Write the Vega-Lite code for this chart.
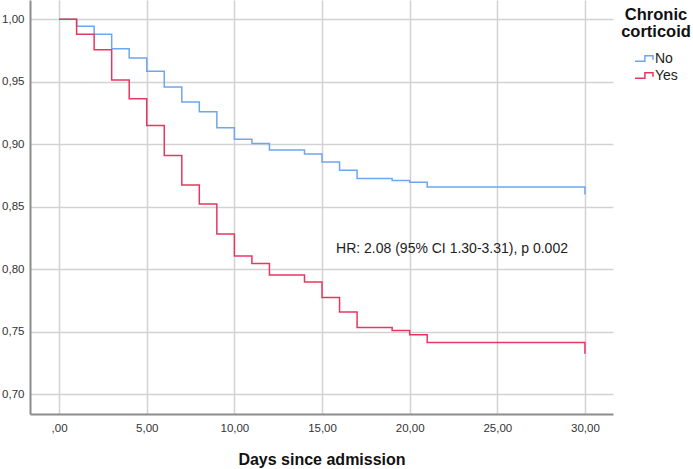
{
  "$schema": "https://vega.github.io/schema/vega-lite/v6.json",
  "autosize": {"type": "none"},
  "width": 583,
  "height": 414,
  "padding": {"left": 30, "top": 0, "right": 80, "bottom": 55},
  "background": "white",
  "config": {
    "view": {"stroke": null},
    "font": "Liberation Sans"
  },
  "datasets": {
    "km": [
      {"group": "No", "day": 0, "surv": 1.0},
      {"group": "No", "day": 1, "surv": 0.9944},
      {"group": "No", "day": 2, "surv": 0.988},
      {"group": "No", "day": 3, "surv": 0.9765},
      {"group": "No", "day": 4, "surv": 0.969},
      {"group": "No", "day": 5, "surv": 0.9584},
      {"group": "No", "day": 6, "surv": 0.9458},
      {"group": "No", "day": 7, "surv": 0.9338},
      {"group": "No", "day": 8, "surv": 0.926},
      {"group": "No", "day": 9, "surv": 0.9133},
      {"group": "No", "day": 10, "surv": 0.904},
      {"group": "No", "day": 11, "surv": 0.9005},
      {"group": "No", "day": 12, "surv": 0.8954},
      {"group": "No", "day": 14, "surv": 0.8922},
      {"group": "No", "day": 15, "surv": 0.8858},
      {"group": "No", "day": 16, "surv": 0.8792},
      {"group": "No", "day": 17, "surv": 0.8725},
      {"group": "No", "day": 19, "surv": 0.8709},
      {"group": "No", "day": 20, "surv": 0.8696},
      {"group": "No", "day": 21, "surv": 0.8658},
      {"group": "No", "day": 30, "surv": 0.8598},
      {"group": "Yes", "day": 0, "surv": 1.0},
      {"group": "Yes", "day": 1, "surv": 0.988},
      {"group": "Yes", "day": 2, "surv": 0.9757},
      {"group": "Yes", "day": 3, "surv": 0.9514},
      {"group": "Yes", "day": 4, "surv": 0.9365},
      {"group": "Yes", "day": 5, "surv": 0.915},
      {"group": "Yes", "day": 6, "surv": 0.891},
      {"group": "Yes", "day": 7, "surv": 0.8674},
      {"group": "Yes", "day": 8, "surv": 0.8522},
      {"group": "Yes", "day": 9, "surv": 0.8282},
      {"group": "Yes", "day": 10, "surv": 0.8106},
      {"group": "Yes", "day": 11, "surv": 0.8045},
      {"group": "Yes", "day": 12, "surv": 0.7954},
      {"group": "Yes", "day": 14, "surv": 0.7896},
      {"group": "Yes", "day": 15, "surv": 0.7773},
      {"group": "Yes", "day": 16, "surv": 0.7656},
      {"group": "Yes", "day": 17, "surv": 0.7533},
      {"group": "Yes", "day": 19, "surv": 0.7509},
      {"group": "Yes", "day": 20, "surv": 0.7474},
      {"group": "Yes", "day": 21, "surv": 0.7413},
      {"group": "Yes", "day": 30, "surv": 0.7322}
    ],
    "note": [
      {"label": "HR: 2.08 (95% CI 1.30-3.31), p 0.002"}
    ]
  },
  "layer": [
    {
      "data": {"name": "km"},
      "mark": {"type": "line", "interpolate": "step-after", "strokeWidth": 1.5},
      "encoding": {
        "x": {
          "field": "day", "type": "quantitative",
          "scale": {"domain": [-1.66, 31.6], "nice": false, "zero": false},
          "axis": {
            "title": "Days since admission",
            "values": [0, 5, 10, 15, 20, 25, 30],
            "labelExpr": "datum.value == 0 ? ',00' : replace(format(datum.value, '.2f'), '.', ',')",
            "grid": true, "gridColor": "#d2d2d2", "gridWidth": 1.5,
            "domainColor": "#8c8c8c", "domainWidth": 2,
            "ticks": false, "labelPadding": 8,
            "labelFont": "Liberation Sans", "labelFontSize": 11.5, "labelColor": "#333333",
            "titleFont": "Liberation Sans", "titleFontSize": 16, "titleFontWeight": "bold", "titleColor": "#111111",
            "titlePadding": 18
          }
        },
        "y": {
          "field": "surv", "type": "quantitative",
          "scale": {"domain": [0.684, 1.0155], "nice": false, "zero": false},
          "axis": {
            "title": null,
            "values": [0.7, 0.75, 0.8, 0.85, 0.9, 0.95, 1.0],
            "labelExpr": "replace(format(datum.value, '.2f'), '.', ',')",
            "grid": true, "gridColor": "#d2d2d2", "gridWidth": 1.5,
            "domainColor": "#8c8c8c", "domainWidth": 2,
            "ticks": false, "labelPadding": 6,
            "labelFont": "Liberation Sans", "labelFontSize": 11.5, "labelColor": "#333333"
          }
        },
        "color": {
          "field": "group", "type": "nominal",
          "scale": {"domain": ["No", "Yes"], "range": ["#6ea6f0", "#e8375f"]},
          "legend": {
            "title": ["Chronic", "corticoid"],
            "orient": "none",
            "legendX": 591,
            "legendY": 7,
            "titleFont": "Liberation Sans", "titleFontSize": 16.5, "titleFontWeight": "bold", "titleColor": "#111111",
            "titleAnchor": "middle", "titleAlign": "center", "titleLineHeight": 17, "titlePadding": 8,
            "labelFont": "Liberation Sans", "labelFontSize": 14, "labelColor": "#222222",
            "symbolType": "M-1,0.3H0.1V-0.3H1V0.15",
            "symbolSize": 324, "symbolStrokeWidth": 1.5, "symbolFillColor": "transparent",
            "labelOffset": 1, "rowPadding": 0
          }
        }
      }
    },
    {
      "data": {"name": "note"},
      "mark": {"type": "text", "align": "left", "baseline": "middle", "font": "Liberation Sans", "fontSize": 14, "color": "#222222"},
      "encoding": {
        "x": {"datum": 15.8, "type": "quantitative"},
        "y": {"datum": 0.8162, "type": "quantitative"},
        "text": {"field": "label"}
      }
    }
  ]
}
